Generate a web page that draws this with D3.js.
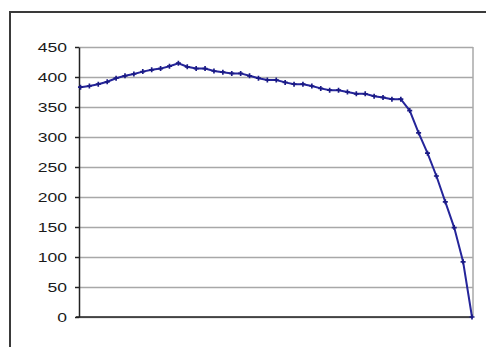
<!DOCTYPE html>
<html>
<head>
<meta charset="utf-8">
<script src="https://cdn.jsdelivr.net/npm/d3@7"></script>
<style>
  body { margin: 0; background: #fff; }
  svg { display: block; }
</style>
</head>
<body>
<div id="chart"></div>
<script>
// Data
const categories = d3.range(1, 46);
const values = [
    383, 385, 388, 392, 398, 402, 405, 409, 412, 414, 418, 423,
    417, 414, 414, 410, 408, 406, 406, 402, 398, 395, 395, 391, 388,
    388, 385, 381, 378, 378, 375, 372, 372, 368, 366, 363, 363,
    344, 307, 273, 235, 192, 149, 92, 0
];
const yTicks = [0, 50, 100, 150, 200, 250, 300, 350, 400, 450];

const width = 486;
const height = 347;
const plot = { left: 79, top: 47, right: 473, bottom: 317 };

const svg = d3.select("#chart")
    .append("svg")
    .attr("width", width)
    .attr("height", height);

// Outer chart frame (cut off at right and bottom like the reference)
svg.append("rect")
    .attr("x", 10)
    .attr("y", 12)
    .attr("width", 520)
    .attr("height", 400)
    .attr("fill", "#fff")
    .attr("stroke", "#3a3a3a")
    .attr("stroke-width", 2);

const xScale = d3.scalePoint()
    .domain(categories)
    .range([plot.left + 1.5, plot.right - 1]);

const yScale = d3.scaleLinear()
    .domain([0, 450])
    .range([plot.bottom, plot.top]);

// Gridlines
svg.append("g")
    .attr("transform", `translate(${plot.left},0)`)
    .call(d3.axisLeft(yScale).tickValues(yTicks).tickSize(-(plot.right - plot.left)).tickFormat(""))
    .call(g => g.select(".domain").remove())
    .selectAll("line")
    .attr("stroke", "#a8a8a8")
    .attr("stroke-width", 1.5);

// Plot area right border
svg.append("line")
    .attr("x1", plot.right).attr("x2", plot.right)
    .attr("y1", plot.top).attr("y2", plot.bottom)
    .attr("stroke", "#a8a8a8")
    .attr("stroke-width", 1.5);

// Y axis
const yAxis = svg.append("g")
    .attr("transform", `translate(${plot.left},0)`)
    .call(d3.axisLeft(yScale).tickValues(yTicks).tickSize(4).tickSizeOuter(0));

yAxis.select(".domain")
    .attr("stroke", "#222")
    .attr("stroke-width", 1.5);
yAxis.selectAll(".tick line")
    .attr("stroke", "#222")
    .attr("stroke-width", 1.5);
yAxis.selectAll(".tick text")
    .attr("x", null)
    .attr("dy", "0.36em")
    .attr("transform", "translate(-12,0) scale(1.3,1)")
    .style("font-family", "'Liberation Sans', Arial, sans-serif")
    .style("font-size", "13.5px")
    .style("fill", "#1a1a1a");

// X axis line (no labels)
svg.append("line")
    .attr("x1", plot.left - 3).attr("x2", plot.right)
    .attr("y1", yScale(0)).attr("y2", yScale(0))
    .attr("stroke", "#222")
    .attr("stroke-width", 1.5);

// Series line
const line = d3.line()
    .x((d, i) => xScale(categories[i]))
    .y(d => yScale(d));

svg.append("path")
    .datum(values)
    .attr("fill", "none")
    .attr("stroke", "#25259a")
    .attr("stroke-width", 2)
    .attr("d", line);

// Markers
svg.append("g")
    .selectAll("path")
    .data(values)
    .join("path")
    .attr("transform", (d, i) => `translate(${xScale(categories[i])},${yScale(d)})`)
    .attr("d", d3.symbol().type(d3.symbolCross).size(14))
    .attr("fill", "#1a1a85");
</script>
</body>
</html>
